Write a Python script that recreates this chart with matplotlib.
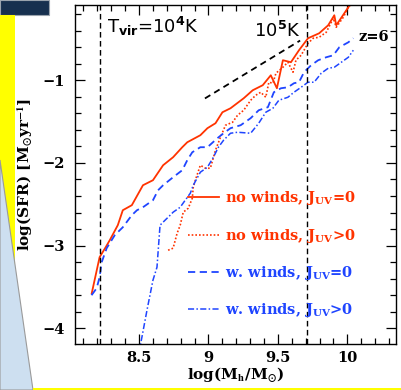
import matplotlib
matplotlib.use("Agg")
import matplotlib.pyplot as plt
from matplotlib.patches import Rectangle, Polygon
from matplotlib.ticker import MultipleLocator, FixedLocator

plt.rcParams["font.family"] = "DejaVu Serif"
plt.rcParams["font.weight"] = "bold"
plt.rcParams["axes.labelweight"] = "bold"
plt.rcParams["mathtext.fontset"] = "dejavuserif"
plt.rcParams["mathtext.default"] = "bf"

RED = "#ff3300"
BLUE = "#1f45ff"

# ---------------------------------------------------------------------------
# Curves: log(Mh/Msun) vs log(SFR)
# ---------------------------------------------------------------------------
nw_j0_x = [8.16, 8.217, 8.261, 8.29, 8.348, 8.384, 8.449, 8.529, 8.601, 8.674,
           8.746, 8.812, 8.848, 8.942, 8.993, 9.051, 9.101, 9.159, 9.254, 9.319,
           9.391, 9.449, 9.493, 9.536, 9.594, 9.652, 9.717, 9.797, 9.862, 9.906,
           9.92, 9.978, 10.03]
nw_j0_y = [-3.58, -3.14, -3.019, -2.935, -2.753, -2.572, -2.511, -2.27, -2.209, -2.028,
           -1.931, -1.81, -1.75, -1.665, -1.58, -1.52, -1.387, -1.339, -1.218, -1.121,
           -1.06, -0.94, -1.097, -0.758, -0.782, -0.637, -0.492, -0.432, -0.335, -0.214,
           -0.335, -0.19, -0.06]

nw_jp_x = [8.71, 8.746, 8.775, 8.797, 8.819, 8.855, 8.884, 8.891, 8.906, 8.942,
           8.978, 9.014, 9.051, 9.087, 9.123, 9.174, 9.21, 9.254, 9.304, 9.341,
           9.377, 9.413, 9.435, 9.464, 9.486, 9.536, 9.572, 9.609, 9.63, 9.667,
           9.717, 9.754, 9.797, 9.848, 9.899, 9.92, 9.971, 10.007, 10.04]
nw_jp_y = [-3.056, -3.031, -2.85, -2.753, -2.596, -2.548, -2.427, -2.294, -2.209, -2.028,
           -2.064, -2.064, -1.846, -1.689, -1.544, -1.508, -1.423, -1.363, -1.242, -1.181,
           -1.145, -1.206, -1.024, -1.036, -0.915, -0.843, -0.782, -0.903, -0.758, -0.698,
           -0.553, -0.492, -0.48, -0.42, -0.25, -0.359, -0.238, -0.117, -0.06]

ww_j0_x = [8.159, 8.196, 8.217, 8.232, 8.268, 8.326, 8.384, 8.449, 8.486, 8.529,
           8.601, 8.638, 8.674, 8.746, 8.812, 8.848, 8.884, 8.942, 8.993, 9.065,
           9.109, 9.159, 9.232, 9.304, 9.362, 9.428, 9.471, 9.522, 9.572, 9.616,
           9.652, 9.688, 9.739, 9.79, 9.848, 9.899, 9.942, 10.007, 10.043]
ww_j0_y = [-3.6, -3.515, -3.382, -3.201, -3.031, -2.874, -2.778, -2.632, -2.572, -2.536,
           -2.451, -2.33, -2.27, -2.173, -2.088, -1.967, -1.871, -1.81, -1.81, -1.701,
           -1.641, -1.58, -1.544, -1.459, -1.363, -1.326, -1.145, -1.097, -1.085, -1.036,
           -1.024, -0.903, -0.819, -0.758, -0.722, -0.698, -0.601, -0.541, -0.492]

ww_jp_x = [8.50, 8.558, 8.601, 8.63, 8.652, 8.688, 8.725, 8.746, 8.797, 8.833,
           8.87, 8.891, 8.942, 8.993, 9.036, 9.072, 9.109, 9.159, 9.21, 9.304,
           9.362, 9.413, 9.464, 9.507, 9.572, 9.616, 9.667, 9.717, 9.761, 9.812,
           9.862, 9.906, 9.957, 10.007, 10.043]
ww_jp_y = [-4.3, -3.781, -3.418, -3.261, -2.753, -2.693, -2.632, -2.596, -2.536, -2.451,
           -2.366, -2.27, -2.112, -2.052, -1.931, -1.81, -1.726, -1.641, -1.629, -1.641,
           -1.52, -1.387, -1.339, -1.242, -1.206, -1.145, -1.085, -1.024, -1.024, -0.915,
           -0.855, -0.843, -0.782, -0.722, -0.637]

tvir_lines = [8.22, 9.71]          # log Mh at Tvir = 1e4 K and 1e5 K
slope_x = [8.975, 9.66]            # slope-one guide line
slope_y = [-1.22, -0.52]

labels = [r"no winds, J$_{\mathbf{UV}}$=0", r"no winds, J$_{\mathbf{UV}}$>0",
          r"w. winds, J$_{\mathbf{UV}}$=0", r"w. winds, J$_{\mathbf{UV}}$>0"]


W, H = 401, 390
fig = plt.figure(figsize=(W / 100, H / 100), dpi=100, facecolor="white")


def px(x, y):
    return (x / W, 1 - y / H)


# slide decoration behind the plot
fig.add_artist(Rectangle(px(0, 15), 49 / W, 15 / H, transform=fig.transFigure,
                         facecolor="#17304f", edgecolor="#9aa3ad", lw=0.8, zorder=0))
fig.add_artist(Rectangle(px(0, 270), 15 / W, 255 / H, transform=fig.transFigure,
                         facecolor="#ffff00", edgecolor="none", zorder=0))
fig.add_artist(Polygon([px(0, 160), px(33, 390), px(0, 390)], closed=True,
                       transform=fig.transFigure, facecolor="#cddff0",
                       edgecolor="#9a9a9a", lw=0.8, zorder=1))
fig.add_artist(Rectangle(px(33, 390), (W - 33) / W, 2.5 / H, transform=fig.transFigure,
                         facecolor="#ffff00", edgecolor="none", zorder=1))

ax = fig.add_axes([75 / W, 1 - 344 / H, 321 / W, 339 / H])
ax.set_xlim(8.04, 10.35)
ax.set_ylim(-4.19, -0.09)

ax.plot(nw_j0_x, nw_j0_y, color=RED, lw=1.3, label=labels[0])
ax.plot(nw_jp_x, nw_jp_y, color=RED, lw=1.2, ls=(0, (1, 1.2)), label=labels[1])
ax.plot(ww_j0_x, ww_j0_y, color=BLUE, lw=1.3, ls=(0, (4, 2.5)), label=labels[2])
ax.plot(ww_jp_x, ww_jp_y, color=BLUE, lw=1.1, ls=(0, (4, 1.5, 1, 1.5)), label=labels[3])

for xv in tvir_lines:
    ax.axvline(xv, color="black", lw=1.0, ls=(0, (4, 2.5)))
ax.plot(slope_x, slope_y, color="black", lw=1.3, ls=(0, (3.5, 2.5)))

ax.text(8.268, -0.432, r"T$_{\mathrm{vir}}$=10$^{\mathrm{4}}$K", fontsize=13,
        fontweight="normal", family="DejaVu Sans", math_fontfamily="dejavusans",
        va="baseline", ha="left")
ax.text(9.326, -0.48, r"10$^{\mathrm{5}}$K", fontsize=13, fontweight="normal",
        family="DejaVu Sans", math_fontfamily="dejavusans", va="baseline", ha="left")
ax.text(10.08, -0.48, "z=6", fontsize=10.5, fontweight="bold", va="center", ha="left")

leg = ax.legend(loc="upper left", bbox_to_anchor=(0.352, 0.456), frameon=False,
                fontsize=10.5, labelcolor="linecolor", handlelength=2.1,
                handletextpad=0.45, labelspacing=1.32, borderpad=0, borderaxespad=0)

ax.xaxis.set_major_locator(FixedLocator([8.5, 9.0, 9.5, 10.0]))
ax.set_xticklabels(["8.5", "9", "9.5", "10"])
ax.xaxis.set_minor_locator(MultipleLocator(0.1))
ax.yaxis.set_major_locator(MultipleLocator(1))
ax.yaxis.set_minor_locator(MultipleLocator(0.2))
ax.tick_params(which="both", direction="in", top=True, right=True, width=0.9,
               labelsize=10.5)
ax.tick_params(which="major", length=7.5)
ax.tick_params(which="minor", length=4)
ax.tick_params(axis="y", pad=7)
ax.tick_params(axis="x", pad=5)
for s in ax.spines.values():
    s.set_linewidth(1.0)

ax.set_xlabel(r"log(M$_{\mathbf{h}}$/M$_{\odot}$)", fontsize=11,
              fontweight="bold", math_fontfamily="stix")
ax.set_ylabel(r"log(SFR) [M$_{\odot}$yr$^{-1}$]", fontsize=11,
              fontweight="bold", math_fontfamily="stix")
ax.xaxis.set_label_coords(0.5, -0.064)
ax.yaxis.set_label_coords(-0.125, 0.5)

fig.savefig("out.png", dpi=100, facecolor="white")
